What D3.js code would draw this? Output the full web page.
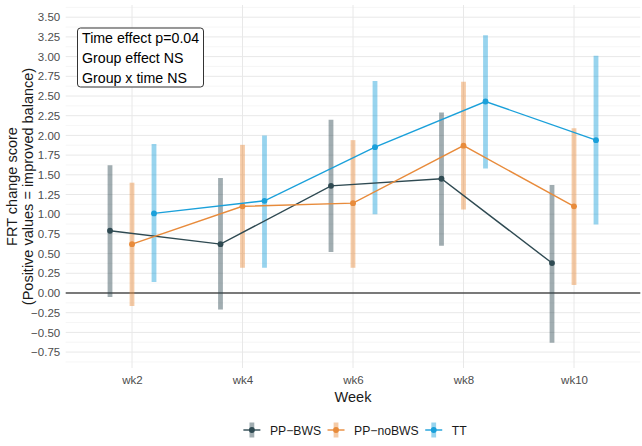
<!DOCTYPE html>
<html>
<head>
<meta charset="utf-8">
<script src="https://cdn.jsdelivr.net/npm/d3@7"></script>
<style>
  body { margin: 0; background: #fff; }
  svg { font-family: "Liberation Sans", Arial, Helvetica, sans-serif; }
</style>
</head>
<body>
<svg id="canvas" width="642" height="446"></svg>
<script>
// data
let weeks = ['wk2', 'wk4', 'wk6', 'wk8', 'wk10']
let groups = ['PP\u2212BWS', 'PP\u2212noBWS', 'TT']
let groupColors = ['#2f4a52', '#e88b3b', '#1aa0da']

let meanBWS   = [0.79, 0.62, 1.36, 1.45, 0.38]
let lowBWS    = [-0.05, -0.21, 0.52, 0.60, -0.63]
let highBWS   = [1.62, 1.46, 2.20, 2.29, 1.37]

let meanNoBWS = [0.62, 1.10, 1.14, 1.87, 1.10]
let lowNoBWS  = [-0.165, 0.32, 0.32, 1.06, 0.10]
let highNoBWS = [1.40, 1.88, 1.94, 2.68, 2.09]

let meanTT    = [1.01, 1.17, 1.85, 2.43, 1.94]
let lowTT     = [0.14, 0.32, 1.00, 1.58, 0.87]
let highTT    = [1.89, 2.00, 2.69, 3.27, 3.01]

let yTicks = d3.range(-0.75, 3.5001, 0.25)
let noteLines = ['Time effect p=0.04', 'Group effect NS', 'Group x time NS']

let series = [
  {name: groups[0], color: groupColors[0], mean: meanBWS, low: lowBWS, high: highBWS},
  {name: groups[1], color: groupColors[1], mean: meanNoBWS, low: lowNoBWS, high: highNoBWS},
  {name: groups[2], color: groupColors[2], mean: meanTT, low: lowTT, high: highTT}
]

let canvas = d3.select('#canvas')

let panel = {left: 65.7, right: 640.3, top: 5, bottom: 368}

let xScale = d3.scalePoint().domain(weeks).range([panel.left, panel.right]).padding(0.6)
let dodge = d3.scalePoint().domain(groups).range([-22, 22])
let yScale = d3.scaleLinear().domain([-0.952, 3.655]).range([panel.bottom, panel.top])

let fmt = (v) => d3.format('.2f')(v).replace('-', '\u2212')

// grid
let minorTicks = yTicks.map(t => t + 0.125).concat([-0.875])
canvas.append('g').selectAll('line')
  .data(minorTicks.filter(t => yScale(t) > panel.top && yScale(t) < panel.bottom))
  .enter().append('line')
  .attr('x1', panel.left).attr('x2', panel.right)
  .attr('y1', d => yScale(d)).attr('y2', d => yScale(d))
  .attr('stroke', '#f0f0f0').attr('stroke-width', 0.6)

canvas.append('g').selectAll('line')
  .data(yTicks)
  .enter().append('line')
  .attr('x1', panel.left).attr('x2', panel.right)
  .attr('y1', d => yScale(d)).attr('y2', d => yScale(d))
  .attr('stroke', '#e8e8e8').attr('stroke-width', 1)

canvas.append('g').selectAll('line')
  .data(weeks)
  .enter().append('line')
  .attr('x1', d => xScale(d)).attr('x2', d => xScale(d))
  .attr('y1', panel.top).attr('y2', panel.bottom)
  .attr('stroke', '#e8e8e8').attr('stroke-width', 1)

// zero line
canvas.append('line')
  .attr('x1', panel.left).attr('x2', panel.right)
  .attr('y1', yScale(0)).attr('y2', yScale(0))
  .attr('stroke', '#000').attr('stroke-width', 1.1)

// y axis labels
let yAxis = d3.axisLeft(yScale).tickValues(yTicks).tickSize(0).tickPadding(5.5).tickFormat(fmt)
let yG = canvas.append('g').attr('transform', 'translate(' + panel.left + ',0)').call(yAxis)
yG.select('.domain').remove()
yG.selectAll('text').attr('fill', '#4d4d4d').style('font-size', '11.5px')
  .style('font-family', '"Liberation Sans", Arial, sans-serif')

// x axis labels
let xAxis = d3.axisBottom(xScale).tickSize(0).tickPadding(8)
let xG = canvas.append('g').attr('transform', 'translate(0,' + panel.bottom + ')').call(xAxis)
xG.select('.domain').remove()
xG.selectAll('text').attr('fill', '#4d4d4d').style('font-size', '11.5px')
  .style('font-family', '"Liberation Sans", Arial, sans-serif')

// axis titles
canvas.append('text')
  .attr('x', (panel.left + panel.right) / 2).attr('y', 402)
  .attr('text-anchor', 'middle').style('font-size', '14.5px').attr('fill', '#1a1a1a')
  .text('Week')

let yTitle = canvas.append('text')
  .attr('transform', 'translate(17,' + ((panel.top + panel.bottom) / 2) + ') rotate(-90)')
  .attr('text-anchor', 'middle').style('font-size', '14.5px').attr('fill', '#1a1a1a')
yTitle.append('tspan').attr('x', 0).attr('y', 0).text('FRT change score')
yTitle.append('tspan').attr('x', 0).attr('y', 15.5).text('(Positive values = improved balance)')

// error bars
series.forEach((s) => {
  canvas.append('g').selectAll('line')
    .data(weeks)
    .enter().append('line')
    .attr('x1', (w) => xScale(w) + dodge(s.name))
    .attr('x2', (w) => xScale(w) + dodge(s.name))
    .attr('y1', (w, i) => yScale(s.low[i]))
    .attr('y2', (w, i) => yScale(s.high[i]))
    .attr('stroke', s.color).attr('stroke-width', 4.8).attr('stroke-opacity', 0.45)
})

// lines and points
series.forEach((s) => {
  let line = d3.line()
    .x((w) => xScale(w) + dodge(s.name))
    .y((w, i) => yScale(s.mean[i]))
  canvas.append('path')
    .datum(weeks)
    .attr('d', line)
    .attr('fill', 'none').attr('stroke', s.color).attr('stroke-width', 1.4)
  canvas.append('g').selectAll('circle')
    .data(weeks)
    .enter().append('circle')
    .attr('cx', (w) => xScale(w) + dodge(s.name))
    .attr('cy', (w, i) => yScale(s.mean[i]))
    .attr('r', 2.9)
    .attr('fill', s.color)
})

// annotation box
let note = canvas.append('g').attr('transform', 'translate(77.5,28)')
note.append('rect')
  .attr('width', 126).attr('height', 59).attr('rx', 3)
  .attr('fill', '#fff').attr('stroke', '#333').attr('stroke-width', 1)
note.selectAll('text')
  .data(noteLines)
  .enter().append('text')
  .attr('x', 4.5).attr('y', (d, i) => 14.5 + i * 20.4)
  .style('font-size', '14.2px').attr('fill', '#000')
  .text(d => d)

// legend
let legend = canvas.append('g')
let xPos = 0
series.forEach((s) => {
  let item = legend.append('g')
  item.append('line').attr('x1', 8.5).attr('x2', 8.5).attr('y1', -7.5).attr('y2', 7.5)
    .attr('stroke', s.color).attr('stroke-width', 4.8).attr('stroke-opacity', 0.45)
  item.append('line').attr('x1', 0).attr('x2', 17).attr('y1', 0).attr('y2', 0)
    .attr('stroke', s.color).attr('stroke-width', 1.4)
  item.append('circle').attr('cx', 8.5).attr('cy', 0).attr('r', 2.9).attr('fill', s.color)
  let t = item.append('text').attr('x', 26.5).attr('y', 4.5)
    .style('font-size', '12.2px').attr('fill', '#1a1a1a').text(s.name)
  let w = 26.5 + t.node().getComputedTextLength()
  item.attr('transform', 'translate(' + xPos + ',0)')
  xPos += w + 6.5
})
let totalW = xPos - 6.5
legend.attr('transform', 'translate(' + (355 - totalW / 2) + ',430)')
</script>
</body>
</html>
